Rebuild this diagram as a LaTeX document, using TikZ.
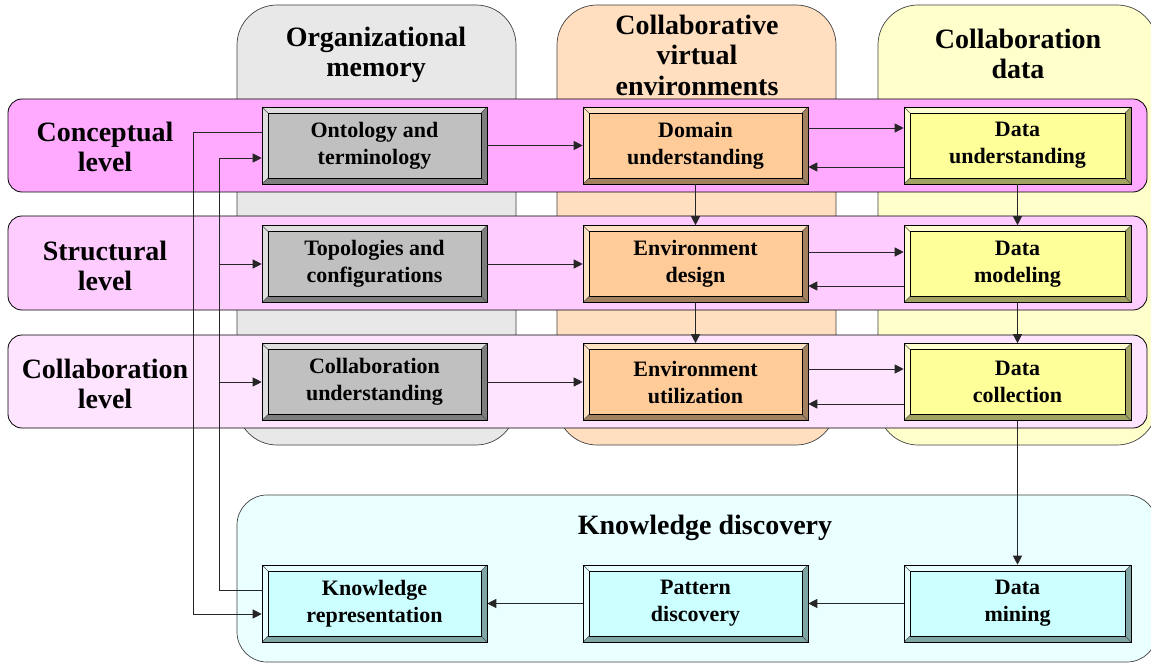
\documentclass[tikz,border=0pt]{standalone}
\usepackage{fontspec}
\setmainfont{Liberation Serif}
\usetikzlibrary{arrows.meta}

\tikzset{
  titletext/.style={align=center, font=\fontsize{28}{30.5}\selectfont\bfseries},
  boxtext/.style={align=center, font=\fontsize{22}{27}\selectfont\bfseries,
    execute at begin node={\rule{0pt}{26pt}}},
  colbg/.style={draw=black!75, line width=0.7pt, rounded corners=40pt},
  rowbg/.style={draw=black, line width=0.8pt, rounded corners=14pt},
  link/.style={draw=black!85, line width=0.9pt, -{Triangle[length=9pt,width=9pt]}},
  bevelbox/.style n args={3}{draw=black, line width=0.6pt, fill=#1,
    minimum width=225pt, minimum height=77pt, inner sep=0pt, boxtext,
    path picture={
      \coordinate (bnw) at (path picture bounding box.north west);
      \coordinate (bne) at (path picture bounding box.north east);
      \coordinate (bsw) at (path picture bounding box.south west);
      \coordinate (bse) at (path picture bounding box.south east);
      \fill[#2] (bnw) rectangle (bse);
      \fill[#3] (bse) -- (bne) -- ([shift={(-6pt,-6pt)}]bne) -- ([shift={(-6pt,6pt)}]bse)
        -- ([shift={(6pt,6pt)}]bsw) -- (bsw) -- cycle;
      \draw[black!70, line width=0.4pt] (bnw) -- ([shift={(6pt,-6pt)}]bnw)
        (bne) -- ([shift={(-6pt,-6pt)}]bne) (bsw) -- ([shift={(6pt,6pt)}]bsw)
        (bse) -- ([shift={(-6pt,6pt)}]bse);
      \draw[black, line width=0.5pt, fill=#1] ([shift={(6pt,-6pt)}]bnw) rectangle ([shift={(-6pt,6pt)}]bse);
    }},
}

\begin{document}
\begin{tikzpicture}[x=1pt,y=-1pt]
  \useasboundingbox (0,0) rectangle (1151,663);

  % Changing colors
  \definecolor{omgray}{HTML}{E8E8E8}%
  \definecolor{cvepeach}{HTML}{FFDFC0}%
  \definecolor{cdyellow}{HTML}{FFFFCC}%
  \definecolor{conceptrow}{HTML}{FFAAFF}%
  \definecolor{structrow}{HTML}{FFCCFF}%
  \definecolor{collabrow}{HTML}{FFE4FF}%
  \definecolor{kdcyan}{HTML}{EAFFFF}%
  \definecolor{gboxfill}{HTML}{C0C0C0}\definecolor{gboxlight}{HTML}{DEDEDE}\definecolor{gboxdark}{HTML}{7E7E7E}%
  \definecolor{pboxfill}{HTML}{FFCC99}\definecolor{pboxlight}{HTML}{FFE2C4}\definecolor{pboxdark}{HTML}{A2815F}%
  \definecolor{yboxfill}{HTML}{FFFF99}\definecolor{yboxlight}{HTML}{FFFFD0}\definecolor{yboxdark}{HTML}{A2A262}%
  \definecolor{cboxfill}{HTML}{CCFFFF}\definecolor{cboxlight}{HTML}{E8FFFF}\definecolor{cboxdark}{HTML}{7FA5A5}%

  % Drawing columns
  \draw [colbg, fill=omgray] (237,5) rectangle (516,445);
  \draw [colbg, fill=cvepeach] (557,5) rectangle (836,445);
  \draw [colbg, fill=cdyellow] (878,5) rectangle (1157,445);
  \node [titletext] (omtitle) at (376,55) {Organizational\\memory};
  \node [titletext] (cvetitle) at (697,55) {Collaborative\\virtual\\environments};
  \node [titletext] (cdtitle) at (1018,54) {Collaboration\\data};

  % Drawing levels
  \draw [rowbg, fill=conceptrow] (8,99) rectangle (1147,192);
  \draw [rowbg, fill=structrow] (8,216) rectangle (1147,310);
  \draw [rowbg, fill=collabrow] (8,335) rectangle (1147,428);
  \node [titletext] (conlabel) at (105,147) {Conceptual\\level};
  \node [titletext] (strlabel) at (105,266) {Structural\\level};
  \node [titletext] (collabel) at (105,384) {Collaboration\\level};

  % Drawing knowledge discovery
  \draw [colbg, rounded corners=30pt, fill=kdcyan] (237,495) rectangle (1157,662);
  \node [titletext] (kdtitle) at (705,528) {Knowledge discovery};

  % Marking boxes
  \node [bevelbox={gboxfill}{gboxlight}{gboxdark}] (onto) at (374.5,145.5) {Ontology and\\terminology};
  \node [bevelbox={pboxfill}{pboxlight}{pboxdark}] (domund) at (695.5,145.5) {Domain\\understanding};
  \node [bevelbox={yboxfill}{yboxlight}{yboxdark}, minimum width=227pt] (datund) at (1017.5,145.5) {Data\\understanding};

  \node [bevelbox={gboxfill}{gboxlight}{gboxdark}] (topo) at (374.5,264) {Topologies and\\configurations};
  \node [bevelbox={pboxfill}{pboxlight}{pboxdark}] (envdes) at (695.5,264) {Environment\\design};
  \node [bevelbox={yboxfill}{yboxlight}{yboxdark}, minimum width=227pt] (datmod) at (1017.5,264) {Data\\modeling};

  \node [bevelbox={gboxfill}{gboxlight}{gboxdark}] (colund) at (374.5,382) {Collaboration\\understanding};
  \node [bevelbox={pboxfill}{pboxlight}{pboxdark}] (envuse) at (695.5,382) {Environment\\utilization};
  \node [bevelbox={yboxfill}{yboxlight}{yboxdark}, minimum width=227pt] (datcol) at (1017.5,382) {Data\\collection};

  \node [bevelbox={cboxfill}{cboxlight}{cboxdark}] (knowrep) at (374.5,603.5) {Knowledge\\representation};
  \node [bevelbox={cboxfill}{cboxlight}{cboxdark}] (patdis) at (695.5,603.5) {Pattern\\discovery};
  \node [bevelbox={cboxfill}{cboxlight}{cboxdark}, minimum width=227pt] (datmin) at (1017.5,603.5) {Data\\mining};

  % Drawing arrows between columns
  \draw [link] (onto) -- (domund);
  \draw [link] ([yshift=17.5pt]domund.east) -- ([yshift=17.5pt]datund.west);
  \draw [link] ([yshift=-21.5pt]datund.west) -- ([yshift=-21.5pt]domund.east);
  \draw [link] (topo) -- (envdes);
  \draw [link] ([yshift=12pt]envdes.east) -- ([yshift=12pt]datmod.west);
  \draw [link] ([yshift=-22pt]datmod.west) -- ([yshift=-22pt]envdes.east);
  \draw [link] (colund) -- (envuse);
  \draw [link] ([yshift=13pt]envuse.east) -- ([yshift=13pt]datcol.west);
  \draw [link] ([yshift=-22pt]datcol.west) -- ([yshift=-22pt]envuse.east);

  % Drawing arrows between levels
  \draw [link] (domund) -- (envdes);
  \draw [link] (envdes) -- (envuse);
  \draw [link] (datund) -- (datmod);
  \draw [link] (datmod) -- (datcol);
  \draw [link] (datcol) -- (datmin);

  % Drawing knowledge discovery chain
  \draw [link] (datmin) -- (patdis);
  \draw [link] (patdis) -- (knowrep);

  % Drawing feedback lines
  \draw [link] ([yshift=13.5pt]knowrep.west) -- ++(-42pt,0) coordinate (kbus) |- ([yshift=-12.5pt]onto.west);
  \draw [link] (kbus |- topo.west) -- (topo.west);
  \draw [link] (kbus |- colund.west) -- (colund.west);
  \draw [link] ([yshift=13.5pt]onto.west) -- ++(-68pt,0) |- ([yshift=-10.5pt]knowrep.west);
\end{tikzpicture}
\end{document}
